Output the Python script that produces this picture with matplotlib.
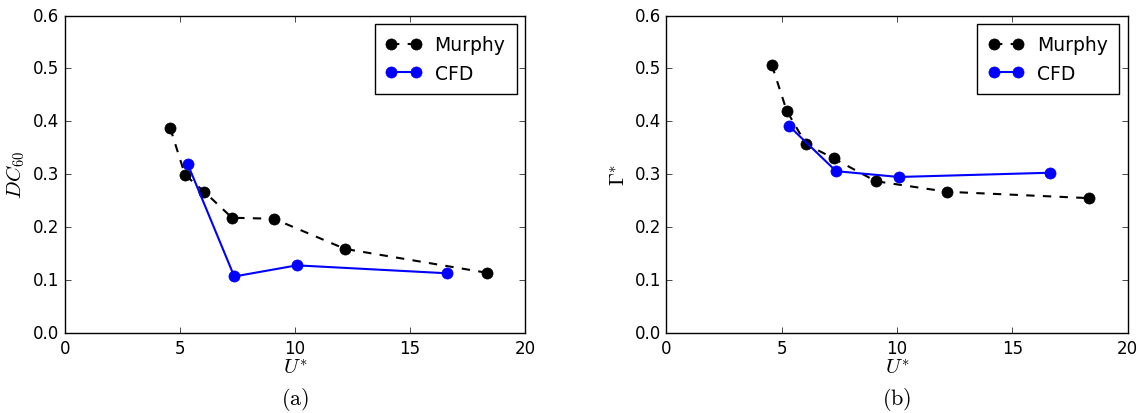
import matplotlib
matplotlib.use('Agg')
import matplotlib.pyplot as plt

plt.style.use('classic')
plt.rcParams['mathtext.fontset'] = 'cm'

# Donnees
U_murphy = [4.58, 5.22, 6.06, 7.26, 9.08, 12.18, 18.34]
DC60_murphy = [0.387, 0.299, 0.267, 0.218, 0.216, 0.159, 0.114]
Gamma_murphy = [0.506, 0.420, 0.357, 0.330, 0.287, 0.267, 0.255]

U_cfd = [5.33, 7.36, 10.08, 16.62]
DC60_cfd = [0.320, 0.107, 0.128, 0.113]
Gamma_cfd = [0.391, 0.306, 0.295, 0.303]

fig = plt.figure(figsize=(11.39, 4.14), dpi=100, facecolor='white')
ax1 = fig.add_axes([0.057, 0.193, 0.404, 0.767])
ax2 = fig.add_axes([0.585, 0.193, 0.405, 0.767])


def trace(ax, y_murphy, y_cfd, ylabel, lettre):
    ax.plot(U_murphy, y_murphy, 'k--', marker='o', markersize=8, markeredgecolor='k',
            linewidth=1.5, label='Murphy')
    ax.plot(U_cfd, y_cfd, 'b-', marker='o', markersize=8, markeredgecolor='b',
            linewidth=1.5, label='CFD')
    ax.set_xlim(0, 20)
    ax.set_ylim(0, 0.6)
    ax.set_xticks([0, 5, 10, 15, 20])
    ax.set_yticks([0.0, 0.1, 0.2, 0.3, 0.4, 0.5, 0.6])
    ax.tick_params(labelsize=12)
    ax.set_xlabel('$U^{*}$', fontsize=15, labelpad=0)
    ax.set_ylabel(ylabel, fontsize=15, labelpad=4)
    ax.legend(loc='upper right', fontsize=13.5, numpoints=2, fancybox=False,
              handlelength=1.9, handletextpad=0.7, borderpad=0.6, borderaxespad=0.45)
    ax.text(0.5, -0.205, lettre, transform=ax.transAxes, ha='center', va='center',
            fontsize=16)
    ax.grid(False)


trace(ax1, DC60_murphy, DC60_cfd, '$DC_{60}$', r'$\mathrm{(a)}$')
trace(ax2, Gamma_murphy, Gamma_cfd, r'$\Gamma^{*}$', r'$\mathrm{(b)}$')

fig.savefig('out.png', dpi=100, facecolor='white')
